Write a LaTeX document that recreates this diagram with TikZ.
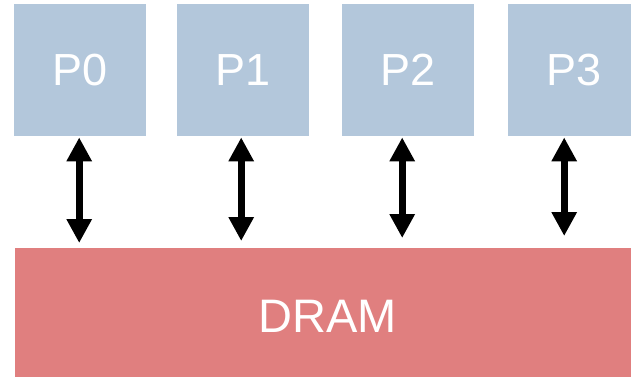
\documentclass[tikz,border=0pt]{standalone}
\usepackage{fontspec}
\setmainfont{Liberation Sans}
\usetikzlibrary{arrows.meta}
\definecolor{pblue}{RGB}{179,199,219}
\definecolor{dred}{RGB}{224,127,127}
\begin{document}
\begin{tikzpicture}[x=1pt,y=-1pt,
  proc/.style={fill=pblue,draw=none,minimum width=132pt,minimum height=132pt,inner sep=0pt,anchor=north west,text=white,font=\fontsize{45}{50}\selectfont},
  mem/.style={fill=dred,draw=none,minimum width=625pt,minimum height=137pt,inner sep=0pt,anchor=north west,text=white,font=\fontsize{47}{52}\selectfont},
  biarrow/.style={line width=7pt,{Triangle[width=24pt,length=24pt]}-{Triangle[width=24pt,length=24pt]}}]
\useasboundingbox (0,0) rectangle (631,376);
\node[proc] (P0) at (14,4) {P0};
\node[proc] (P1) at (177,4) {P1};
\node[proc] (P2) at (342,4) {P2};
\node[proc] (P3) at (508,4) {P3};
\node[mem] (DRAM) at (15,248) {DRAM};
\draw[biarrow,shorten <=1pt,shorten >=5pt] ([xshift=-1pt]P0.south) -- ([xshift=-1pt]P0.south |- DRAM.north);
\draw[biarrow,shorten <=1pt,shorten >=7pt] ([xshift=-2pt]P1.south) -- ([xshift=-2pt]P1.south |- DRAM.north);
\draw[biarrow,shorten <=1pt,shorten >=10pt] ([xshift=-6pt]P2.south) -- ([xshift=-6pt]P2.south |- DRAM.north);
\draw[biarrow,shorten <=1pt,shorten >=12pt] ([xshift=-10pt]P3.south) -- ([xshift=-10pt]P3.south |- DRAM.north);
\end{tikzpicture}
\end{document}
